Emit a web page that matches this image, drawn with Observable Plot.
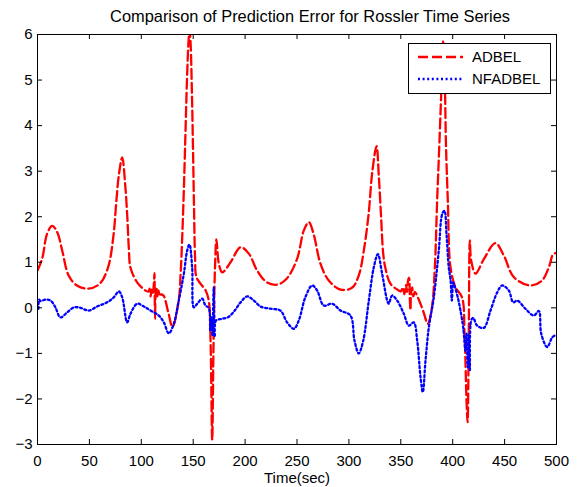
<!DOCTYPE html>
<html>
<head>
<meta charset="utf-8">
<script src="https://cdn.jsdelivr.net/npm/d3@7"></script>
<script src="https://cdn.jsdelivr.net/npm/@observablehq/plot@0.6"></script>
<style>
  html, body { margin: 0; padding: 0; background: #fff; }
  #wrap { position: relative; width: 580px; height: 487px; font-family: "Liberation Sans", Arial, Helvetica, sans-serif; }
  #legend { position: absolute; left: 408px; top: 43px; width: 141px; height: 49px; border: 1px solid #000; background: #fff; }
  #legend svg { display: block; }
</style>
</head>
<body>
<div id="wrap"></div>
<script>
const titleText = "Comparison of Prediction Error for Rossler Time Series";
const xLabel = "Time(sec)";
const xTicks = [0, 50, 100, 150, 200, 250, 300, 350, 400, 450, 500];
const yTicks = [-3, -2, -1, 0, 1, 2, 3, 4, 5, 6];
const seriesNames = ["ADBEL", "NFADBEL"];

// ADBEL (red dashed)
const adbelT = [0, 4.5, 9.3, 14.2, 19, 23.8, 30, 38, 49, 60, 68, 73, 76, 78.3, 81.6, 84.5, 86.5, 88, 89.6, 96, 104,
  107, 108, 109, 110, 111, 112, 112.7, 113, 113.3, 113.7, 114.5, 115.5, 116.5, 117.5, 121, 126, 130, 136,
  138, 139.5, 141, 142.5, 144, 145.5, 146.5, 147.5, 148.7, 149.8, 150.8, 151.8, 153, 157, 162, 165,
  166.7, 168.3, 169.5, 171, 172.4, 174.7, 178, 186, 195.6, 203.6, 211.6, 221, 231, 240, 250, 256.6, 261.4,
  266, 272.6, 280.6, 292, 303, 309.5, 314.4, 319, 322.5, 326.6, 328.8, 331, 333, 335, 340, 348,
  350, 352, 353.5, 355, 356, 357, 358, 358.7, 359.3, 360, 361, 362, 363.5, 367, 372, 376, 380, 382.8,
  385, 386.6, 389, 390.8, 392, 393.5, 395.3, 397.9, 402.7, 409, 411.4, 413.3, 414.3, 415.5, 416.5, 417.8,
  422, 430, 441.2, 449.2, 459, 475, 486, 492.6, 496.8, 499];
const adbelV = [0.82, 1.08, 1.63, 1.8, 1.66, 1.26, 0.71, 0.49, 0.42, 0.53, 0.89, 1.55, 2.35, 2.9, 3.3, 2.7, 2.0, 1.3, 0.88, 0.56, 0.38,
  0.36, 0.42, 0.25, 0.4, 0.3, 0.5, 0.76, 0.1, -0.24, 0.3, 0.45, 0.25, 0.38, 0.3, 0.28, -0.1, -0.42, 0.16,
  0.8, 1.6, 2.6, 3.8, 5.0, 5.85, 6.1, 5.8, 4.8, 3.5, 2.2, 1.1, 0.68, 0.53, 0.38, 0.16,
  -0.72, -2.9, -0.94, 0.89, 1.5, 0.97, 0.78, 1.0, 1.33, 1.19, 0.82, 0.56, 0.51, 0.64, 1.07, 1.7, 1.88,
  1.62, 0.97, 0.6, 0.4, 0.44, 0.71, 1.26, 2.06, 2.98, 3.55, 2.9, 2.0, 1.2, 0.89, 0.53, 0.38,
  0.36, 0.45, 0.3, 0.5, 0.35, 0.6, 0.66, 0.2, -0.05, 0.35, 0.45, 0.25, 0.35, 0.2, -0.1, -0.35, 0.01, 0.89,
  2.35, 3.27, 4.73, 5.85, 5.4, 3.6, 2.35, 0.89, 0.45, 0.23, -0.57, -2.03, -2.51, -0.57, 1.48, 1.04,
  0.75, 1.07, 1.42, 1.15, 0.67, 0.49, 0.6, 0.89, 1.18, 1.2];

// NFADBEL (blue dotted)
const nfadbelT = [0, 0.8, 1.6, 3, 7.7, 12.5, 17.3, 22, 28.6, 35, 41.4, 49.4, 57.5, 67, 73.5, 78.3, 81.6, 86.4, 89.6, 96,
  102.4, 108.9, 116.9, 121.7, 126.5, 131.3, 136.1, 141, 144.2, 146.4, 149, 150.6, 153.9, 158.7, 161.8, 165,
  166.4, 167.5, 168.5, 169.8, 170.8, 172, 178, 184, 190, 195.6, 202, 208.4, 214.8, 224.5, 234, 240.5, 247,
  251.7, 258, 264.6, 269.4, 275.8, 283.9, 292, 301.5, 305.4, 309.5, 313.8, 319.2, 324, 327.9, 332, 336.9,
  338.4, 341.7, 346.5, 352.9, 357.7, 362.5, 365.8, 369, 371.2, 373.8, 377, 381.8, 386.6, 389.9, 392.1, 394,
  396.2, 397.9, 399.2, 400.5, 401.7, 404.9, 407.5, 410.1, 412.3, 413.3, 414.5, 415.5, 416.5, 417.8, 419.7,
  423.6, 430, 436.4, 442.9, 447.7, 454, 458.3, 462.1, 470.1, 478.1, 483, 485.3, 491, 495.8, 499];
const nfadbelV = [0.12, -0.05, 0.18, 0.15, 0.18, 0.16, 0.01, -0.21, -0.1, 0.01, 0, -0.06, 0.03, 0.12, 0.23, 0.36, 0.23, -0.32, -0.13, 0.09,
  0.03, -0.06, -0.17, -0.32, -0.56, -0.35, 0.16, 0.75, 1.26, 1.39, 0.89, 0.01, 0.09, 0.2, 0.05, 0,
  -0.5, -0.2, -0.6, 0.45, -0.64, -0.28, -0.24, -0.2, -0.06, 0.12, 0.25, 0.16, 0.03, -0.02, -0.06, -0.32, -0.46,
  -0.28, 0.23, 0.49, 0.38, 0.05, 0.09, -0.06, -0.17, -0.72, -1.0, -0.72, 0.16, 0.89, 1.18, 0.75, 0.16,
  0.09, 0.27, 0.16, -0.13, -0.39, -0.32, -0.72, -1.52, -1.85, -1.16, -0.43, 0.23, 1.26, 2.06, 2.13, 1.62,
  0.89, 0.62, 0.16, 0.56, 0.49, 0.23, -0.06, -0.43, -0.94, -0.57, -1.3, -0.6, -1.38, -0.28, -0.22,
  -0.39, -0.44, -0.06, 0.34, 0.49, 0.38, 0.12, 0.16, -0.02, -0.17, -0.07, -0.57, -0.86, -0.65, -0.6];

const adbel = adbelT.map((t, i) => ({t, v: adbelV[i]}));
const nfadbel = nfadbelT.map((t, i) => ({t, v: nfadbelV[i]}));

const W = 580, H = 487, mL = 37, mR = 24, mT = 34, mB = 43;
const fw = W - mL - mR, fh = H - mT - mB, tl = 5;
const font = "Liberation Sans, Arial, Helvetica, sans-serif";
const redDash = "10,4", blueDash = "2,2.6";

const chart = Plot.plot({
  width: W, height: H,
  marginLeft: mL, marginRight: mR, marginTop: mT, marginBottom: mB,
  style: {fontFamily: font, fontSize: "15px", color: "#000", background: "#fff"},
  x: {domain: [0, 500]},
  y: {domain: [-3, 6]},
  marks: [
    Plot.line(adbel, {x: "t", y: "v", stroke: "#ff0000", strokeWidth: 2.3, strokeDasharray: redDash, curve: "catmull-rom", clip: true}),
    Plot.line(nfadbel, {x: "t", y: "v", stroke: "#0000ff", strokeWidth: 2.3, strokeDasharray: blueDash, curve: "catmull-rom", clip: true}),
    Plot.frame({stroke: "#000", strokeWidth: 1}),
    Plot.tickX(xTicks, {x: d => d, insetTop: fh - tl, stroke: "#000"}),
    Plot.tickX(xTicks, {x: d => d, insetBottom: fh - tl, stroke: "#000"}),
    Plot.tickY(yTicks, {y: d => d, insetRight: fw - tl, stroke: "#000"}),
    Plot.tickY(yTicks, {y: d => d, insetLeft: fw - tl, stroke: "#000"}),
    Plot.axisX(xTicks, {anchor: "bottom", tickSize: 0, tickPadding: 11, label: null, fontSize: 15}),
    Plot.axisY(yTicks, {anchor: "left", tickSize: 0, tickPadding: 5, label: null, fontSize: 15}),
    Plot.text([xLabel], {frameAnchor: "bottom", dy: 34, fontSize: 15, lineAnchor: "middle"}),
    Plot.text([titleText], {frameAnchor: "top", dy: -18, dx: 13, fontSize: 16.4, lineAnchor: "middle"})
  ]
});

const wrap = document.getElementById("wrap");
wrap.appendChild(chart);

const legend = document.createElement("div");
legend.id = "legend";
const ns = "http://www.w3.org/2000/svg";
const lsvg = document.createElementNS(ns, "svg");
lsvg.setAttribute("width", 141);
lsvg.setAttribute("height", 49);
const styles = [
  {stroke: "#ff0000", dash: redDash},
  {stroke: "#0000ff", dash: blueDash}
];
seriesNames.forEach((name, i) => {
  const y = 13 + i * 22;
  const ln = document.createElementNS(ns, "line");
  ln.setAttribute("x1", 9); ln.setAttribute("x2", 54);
  ln.setAttribute("y1", y); ln.setAttribute("y2", y);
  ln.setAttribute("stroke", styles[i].stroke);
  ln.setAttribute("stroke-width", 2.3);
  ln.setAttribute("stroke-dasharray", styles[i].dash);
  lsvg.appendChild(ln);
  const tx = document.createElementNS(ns, "text");
  tx.setAttribute("x", 63); tx.setAttribute("y", y);
  tx.setAttribute("dy", "0.35em");
  tx.setAttribute("font-size", 15);
  tx.setAttribute("font-family", font);
  tx.textContent = name;
  lsvg.appendChild(tx);
});
legend.appendChild(lsvg);
wrap.appendChild(legend);
</script>
</body>
</html>
